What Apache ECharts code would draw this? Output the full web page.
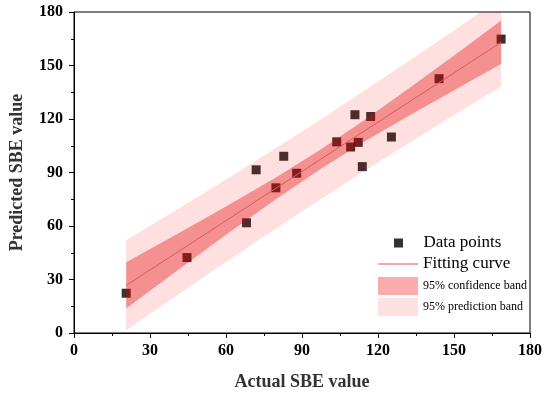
<!DOCTYPE html>
<html><head><meta charset="utf-8">
<script src="https://cdn.jsdelivr.net/npm/echarts@6/dist/echarts.min.js"></script>
<style>html,body{margin:0;padding:0;background:#fff}#c{width:550px;height:396px}</style>
</head><body><div id="c"></div>
<script>
// Data points (actual vs predicted SBE)
const actual =    [20.6, 44.6, 68.1, 71.9, 79.7, 82.8, 87.9, 103.7, 109.2, 112.2, 113.8, 110.9, 117.1, 125.3, 144.1, 168.6];
const predicted = [22.3, 42.3, 61.8, 91.5, 81.4, 99.1, 89.6, 107.2, 104.3, 106.9, 93.3, 122.4, 121.4, 109.9, 142.6, 164.8];
// Fitting line end points
const fitX = [20.6, 168.6];
const fitY = [26.7, 163.0];
// Band edges read at sample positions
const bandX =     [20.6, 40, 60, 80, 97.5, 115, 135, 155, 168.6];
const confLower = [13.7, 34.2, 55.1, 75.3, 92.1, 107.6, 124.1, 140.1, 150.8];
const confUpper = [39.7, 54.9, 70.9, 87.5, 103.0, 119.7, 140.0, 160.8, 175.2];
const predLower = [1.4, 20.5, 39.8, 58.8, 75.1, 91.1, 108.9, 126.4, 138.1];
const predUpper = [52.0, 68.7, 86.1, 104.0, 119.9, 136.2, 155.2, 174.6, 187.9];
// Tick values
const xTicks = [0, 30, 60, 90, 120, 150, 180];
const yTicks = [0, 30, 60, 90, 120, 150, 180];

const serif = 'Liberation Serif, Times New Roman, serif';

function bandRender(lower, upper, fill) {
  return function (params, api) {
    if (params.dataIndex !== 0) return null;
    const pts = [];
    for (let i = 0; i < bandX.length; i++) pts.push(api.coord([bandX[i], upper[i]]));
    for (let i = bandX.length - 1; i >= 0; i--) pts.push(api.coord([bandX[i], lower[i]]));
    const cs = params.coordSys;
    return {
      type: 'polygon',
      shape: { points: pts },
      style: { fill: fill, stroke: null },
      clipPath: { type: 'rect', shape: { x: cs.x, y: cs.y, width: cs.width, height: cs.height } }
    };
  };
}

const chart = echarts.init(document.getElementById('c'), null, { renderer: 'canvas' });
const axisCommon = {
  type: 'value',
  axisLine: { show: true, lineStyle: { color: '#000', width: 1 } },
  axisTick: { show: true, length: 5, lineStyle: { color: '#000', width: 1 } },
  minorTick: { show: true, splitNumber: 2, length: 3, lineStyle: { color: '#000', width: 1 } },
  splitLine: { show: false },
  nameLocation: 'middle',
  nameTextStyle: { fontFamily: serif, fontWeight: 'bold', fontSize: 18, color: '#333' }
};

const legendBase = (left, top, opts) => Object.assign({
  left: left, top: top, padding: 0, orient: 'vertical', selectedMode: false, itemWidth: 40,
  textStyle: { fontFamily: serif, fontSize: 17, color: '#000', lineHeight: 18 }
}, opts);

chart.setOption({
  animation: false,
  grid: { left: 72, right: 20, top: 12, bottom: 62, show: true, borderColor: '#000', borderWidth: 1 },
  xAxis: Object.assign({}, axisCommon, {
    min: xTicks[0], max: xTicks[xTicks.length - 1], interval: xTicks[1] - xTicks[0],
    name: 'Actual SBE value', nameGap: 40,
    axisLabel: { fontFamily: serif, fontWeight: 'bold', fontSize: 16, color: '#000', margin: 10 }
  }),
  yAxis: Object.assign({}, axisCommon, {
    min: yTicks[0], max: yTicks[yTicks.length - 1], interval: yTicks[1] - yTicks[0],
    name: 'Predicted SBE value', nameGap: 48,
    axisLabel: { fontFamily: serif, fontWeight: 'bold', fontSize: 16, color: '#000', margin: 11 }
  }),
  legend: [
    legendBase(394, 234, { itemHeight: 9, data: [{ name: 'Data points', icon: 'path://M0,0L1,0L1,1L0,1Z', itemStyle: { color: '#000' } }] }),
    legendBase(378, 255, { itemHeight: 2, data: [{ name: 'Fitting curve', icon: 'rect', itemStyle: { color: '#f2a6a6' } }] }),
    legendBase(378, 277, { itemHeight: 18, textStyle: { fontFamily: serif, fontSize: 12, color: '#000', lineHeight: 18 }, data: [{ name: '95% confidence band', icon: 'rect', itemStyle: { color: '#fbabab' } }] }),
    legendBase(378, 298, { itemHeight: 18, textStyle: { fontFamily: serif, fontSize: 12, color: '#000', lineHeight: 18 }, data: [{ name: '95% prediction band', icon: 'rect', itemStyle: { color: '#fde1e1' } }] })
  ],
  series: [
    {
      type: 'scatter', name: 'Data points', z: 2,
      data: actual.map((x, i) => [x, predicted[i]]),
      symbol: 'rect', symbolSize: 9,
      itemStyle: { color: '#000' }
    },
    {
      type: 'custom', name: '95% prediction band', z: 3,
      data: bandX.map((x, i) => [x, predLower[i], predUpper[i]]),
      encode: { x: 0, y: [1, 2] },
      itemStyle: { color: '#fde1e1' },
      renderItem: bandRender(predLower, predUpper, 'rgba(255,0,0,0.12)'),
      silent: true
    },
    {
      type: 'custom', name: '95% confidence band', z: 4,
      data: bandX.map((x, i) => [x, confLower[i], confUpper[i]]),
      encode: { x: 0, y: [1, 2] },
      itemStyle: { color: '#fbabab' },
      renderItem: bandRender(confLower, confUpper, 'rgba(225,0,0,0.36)'),
      silent: true
    },
    {
      type: 'line', name: 'Fitting curve', z: 5,
      data: fitX.map((x, i) => [x, fitY[i]]),
      symbol: 'none',
      lineStyle: { color: '#d85a5a', width: 1 },
      itemStyle: { color: '#f2a6a6' }
    }
  ]
});
</script>
</body></html>
